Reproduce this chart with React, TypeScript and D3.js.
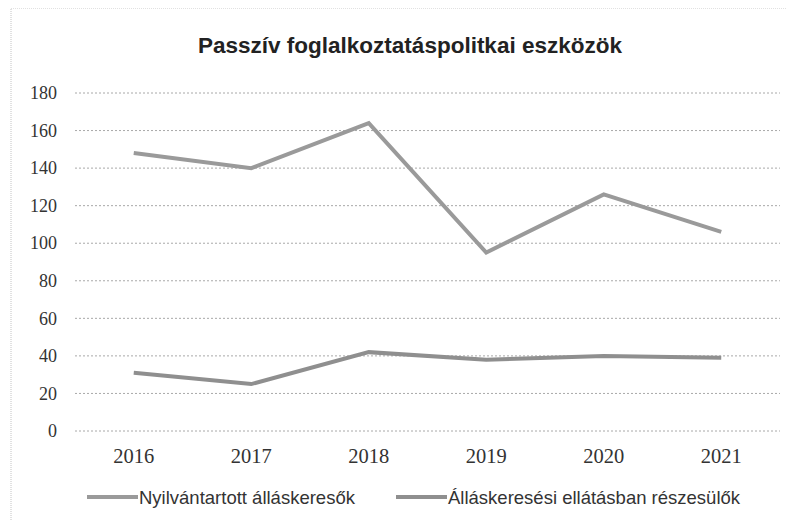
import React, { useRef, useEffect } from "react";
import * as d3 from "d3";

const years = ["2016", "2017", "2018", "2019", "2020", "2021"];
const registered = [148, 140, 164, 95, 126, 106];
const benefit = [31, 25, 42, 38, 40, 39];
const seriesNames = ["Nyilvántartott álláskeresők", "Álláskeresési ellátásban részesülők"];
const yTicks = [0, 20, 40, 60, 80, 100, 120, 140, 160, 180];
const title = "Passzív foglalkoztatáspolitkai eszközök";

export default function App() {
    const svgRef = useRef<SVGSVGElement>(null);
    const width = 794;
    const height = 528;

    useEffect(() => {
        if (!svgRef.current) return;
        const svg = d3.select(svgRef.current);
        svg.selectAll("*").remove();

        const margin = { top: 93, right: 14, bottom: 97, left: 75 };
        const w = width - margin.left - margin.right;
        const h = height - margin.top - margin.bottom;

        svg.append("rect").attr("width", width).attr("height", height).attr("fill", "#fff");

        // scan frame
        svg.append("path")
            .attr("d", "M11,528 V8 H794")
            .attr("fill", "none")
            .attr("stroke", "#c4c4c4")
            .attr("stroke-dasharray", "1,1");
        svg.append("line")
            .attr("x1", 0).attr("x2", 6).attr("y1", 93).attr("y2", 93)
            .attr("stroke", "#777");

        svg.append("text")
            .attr("x", 410)
            .attr("y", 53)
            .attr("text-anchor", "middle")
            .style("font-family", "'Liberation Sans', sans-serif")
            .style("font-size", "22.5px")
            .style("font-weight", "bold")
            .attr("fill", "#222")
            .text(title);

        const g = svg.append("g").attr("transform", `translate(${margin.left},${margin.top})`);

        const x = d3.scaleBand().domain(years).range([0, w]);
        const y = d3.scaleLinear().domain([0, 180]).range([h, 0]);

        // gridlines
        g.append("g")
            .selectAll("line")
            .data(yTicks)
            .join("line")
            .attr("x1", 0)
            .attr("x2", w)
            .attr("y1", d => y(d))
            .attr("y2", d => y(d))
            .attr("stroke", "#a8a8a8")
            .attr("stroke-width", 1)
            .attr("stroke-dasharray", "2,2");

        // y axis
        const yAxis = g.append("g")
            .call(d3.axisLeft(y).tickValues(yTicks).tickSize(0).tickPadding(18));
        yAxis.select(".domain").remove();
        yAxis.selectAll("text")
            .style("font-family", "'Liberation Serif', serif")
            .style("font-size", "18px")
            .attr("fill", "#333");

        // x axis
        const xAxis = g.append("g")
            .attr("transform", `translate(0,${h})`)
            .call(d3.axisBottom(x).tickSize(0));
        xAxis.select(".domain").remove();
        xAxis.selectAll("text")
            .attr("y", 32)
            .attr("dy", 0)
            .style("font-family", "'Liberation Serif', serif")
            .style("font-size", "20.5px")
            .attr("fill", "#333");

        const line = d3.line<number>()
            .x((_, i) => (x(years[i]) ?? 0) + x.bandwidth() / 2)
            .y(d => y(d));

        const colors = ["#9a9a9a", "#8f8f8f"];
        [registered, benefit].forEach((data, i) => {
            g.append("path")
                .datum(data)
                .attr("fill", "none")
                .attr("stroke", colors[i])
                .attr("stroke-width", 4)
                .attr("stroke-linejoin", "miter")
                .attr("d", line);
        });

        // legend
        const legendItems = [
            { x: 87, label: seriesNames[0] },
            { x: 396, label: seriesNames[1] },
        ];
        const lg = svg.append("g").attr("transform", "translate(0,497)");
        legendItems.forEach((item, i) => {
            lg.append("line")
                .attr("x1", item.x)
                .attr("x2", item.x + 51)
                .attr("y1", 0)
                .attr("y2", 0)
                .attr("stroke", colors[i])
                .attr("stroke-width", 4);
            lg.append("text")
                .attr("x", item.x + 52)
                .attr("y", 6.5)
                .style("font-family", "'Liberation Sans', sans-serif")
                .style("font-size", "18.5px")
                .attr("fill", "#333")
                .text(item.label);
        });
    }, []);

    return (
        <div style={{ margin: -8 }}>
            <svg ref={svgRef} width={width} height={height} style={{ display: "block" }} />
        </div>
    );
}
